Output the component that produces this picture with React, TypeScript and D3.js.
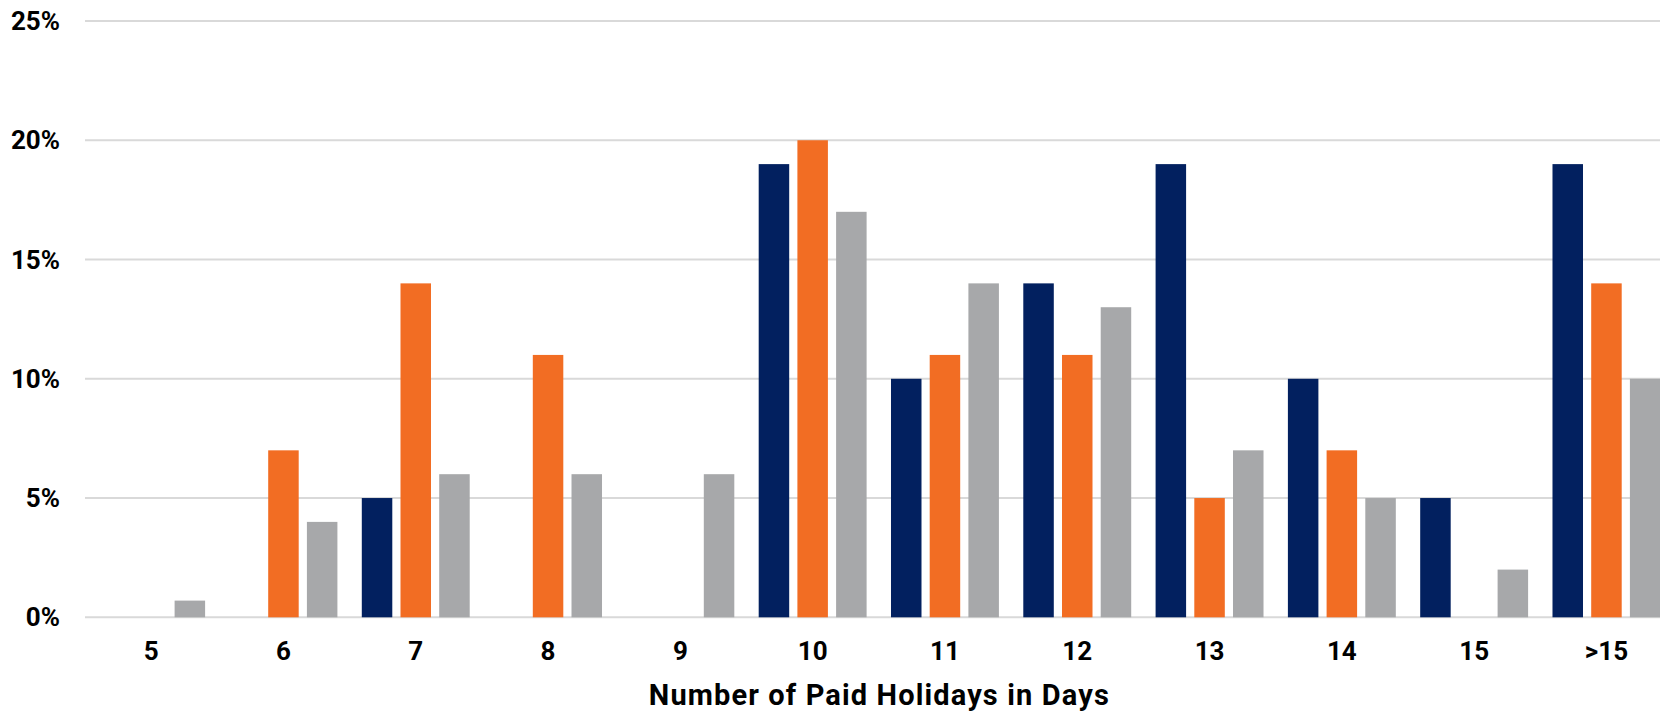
import { useEffect, useRef } from 'react';
import * as d3 from 'd3';

const categories = ['5', '6', '7', '8', '9', '10', '11', '12', '13', '14', '15', '>15'];
const seriesNames = ['navy', 'orange', 'gray'];
const navyValues = [0, 0, 5, 0, 0, 19, 10, 14, 19, 10, 5, 19];
const orangeValues = [0, 7, 14, 11, 0, 20, 11, 11, 5, 7, 0, 14];
const grayValues = [0.7, 4, 6, 6, 6, 17, 14, 13, 7, 5, 2, 10];
const yTicks = [0, 5, 10, 15, 20, 25];
const xTitle = 'Number of Paid Holidays in Days';

const colors: Record<string, string> = {
  navy: '#02205F',
  orange: '#F26D23',
  gray: '#A7A8AA',
};

const App: React.FC = () => {
  const chartRef = useRef<SVGSVGElement>(null);

  useEffect(() => {
    const width = 1660;
    const height = 712;
    const left = 85;
    const plotTop = 21;
    const plotBottom = 617.3;

    const svg = d3.select(chartRef.current);
    svg.selectAll('*').remove();
    svg.attr('width', width).attr('height', height);

    const y = d3.scaleLinear().domain([0, 25]).range([plotBottom, plotTop]);

    // plot runs past the right edge of the picture, so the last bar gets cut
    const plotRight = left + 12 * 132.3;
    const x0 = d3.scaleBand<string>()
      .domain(categories)
      .range([left, plotRight])
      .padding(0);

    const x1 = d3.scaleBand<string>()
      .domain(seriesNames)
      .range([0, x0.bandwidth()])
      .paddingInner(0.212)
      .paddingOuter(0.315);

    const font = 'Roboto, "Noto Sans", sans-serif';

    // gridlines
    svg.append('g')
      .selectAll('line')
      .data(yTicks)
      .enter()
      .append('line')
      .attr('x1', left)
      .attr('x2', width)
      .attr('y1', d => y(d))
      .attr('y2', d => y(d))
      .attr('stroke', '#D9D9D9')
      .attr('stroke-width', 2);

    // y labels
    svg.append('g')
      .selectAll('text')
      .data(yTicks)
      .enter()
      .append('text')
      .attr('x', 60)
      .attr('y', d => y(d))
      .attr('dy', '0.35em')
      .attr('text-anchor', 'end')
      .style('font-family', font)
      .style('font-weight', 700)
      .style('font-size', '26px')
      .attr('fill', '#000')
      .text(d => `${d}%`);

    const rows = categories.map((c, i) => ({
      category: c,
      values: [
        { key: 'navy', value: navyValues[i] },
        { key: 'orange', value: orangeValues[i] },
        { key: 'gray', value: grayValues[i] },
      ],
    }));

    const groups = svg.append('g')
      .selectAll('g')
      .data(rows)
      .enter()
      .append('g')
      .attr('transform', d => `translate(${x0(d.category)},0)`);

    groups.selectAll('rect')
      .data(d => d.values.filter(v => v.value > 0))
      .enter()
      .append('rect')
      .attr('x', d => x1(d.key) as number)
      .attr('width', x1.bandwidth())
      .attr('y', d => y(d.value))
      .attr('height', d => y(0) - y(d.value))
      .attr('fill', d => colors[d.key]);

    // x labels
    svg.append('g')
      .selectAll('text')
      .data(categories)
      .enter()
      .append('text')
      .attr('x', d => (x0(d) as number) + x0.bandwidth() / 2)
      .attr('y', 660)
      .attr('text-anchor', 'middle')
      .style('font-family', font)
      .style('font-weight', 700)
      .style('font-size', '26px')
      .attr('fill', '#000')
      .text(d => d);

    svg.append('text')
      .attr('x', (left + plotRight) / 2)
      .attr('y', 705)
      .attr('text-anchor', 'middle')
      .attr('textLength', 460)
      .attr('lengthAdjust', 'spacing')
      .style('font-family', font)
      .style('font-weight', 700)
      .style('font-size', '29px')
      .attr('fill', '#000')
      .text(xTitle);
  }, []);

  return (
    <svg
      ref={chartRef}
      style={{ position: 'absolute', left: 0, top: 0, background: '#fff' }}
    ></svg>
  );
};

export default App;
